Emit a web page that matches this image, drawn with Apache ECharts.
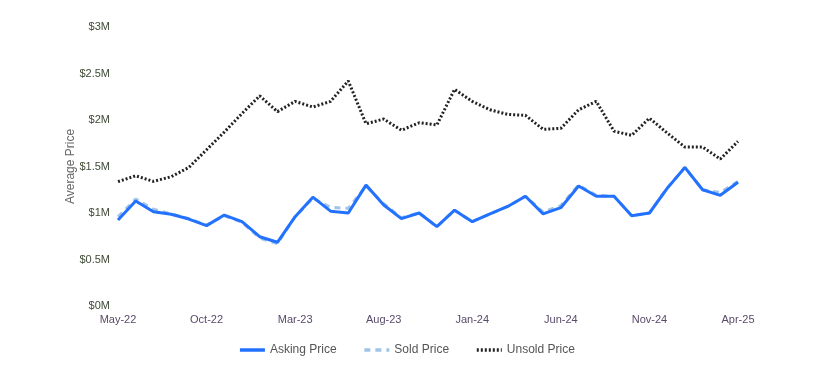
<!DOCTYPE html>
<html><head><meta charset="utf-8">
<script src="https://cdn.jsdelivr.net/npm/echarts@6/dist/echarts.min.js"></script>
<style>html,body{margin:0;padding:0;background:#fff}#c{width:813px;height:374px}</style>
</head><body><div id="c"></div>
<script>
const months = ['May-22','Jun-22','Jul-22','Aug-22','Sep-22','Oct-22','Nov-22','Dec-22','Jan-23','Feb-23','Mar-23','Apr-23','May-23','Jun-23','Jul-23','Aug-23','Sep-23','Oct-23','Nov-23','Dec-23','Jan-24','Feb-24','Mar-24','Apr-24','May-24','Jun-24','Jul-24','Aug-24','Sep-24','Oct-24','Nov-24','Dec-24','Jan-25','Feb-25','Mar-25','Apr-25'];
// values in $ millions
const askingPrice = [0.925,1.13,1.014,0.986,0.935,0.864,0.978,0.907,0.745,0.685,0.96,1.17,1.02,1.00,1.30,1.086,0.94,1.00,0.853,1.03,0.907,0.99,1.07,1.18,0.99,1.057,1.29,1.18,1.18,0.97,1.00,1.265,1.49,1.25,1.19,1.33];
const soldPrice   = [0.96,1.15,1.04,0.99,0.94,0.87,0.97,0.90,0.73,0.67,0.96,1.16,1.06,1.05,1.29,1.10,0.95,1.00,0.853,1.03,0.907,0.99,1.07,1.18,1.01,1.08,1.30,1.19,1.18,0.97,1.00,1.27,1.49,1.25,1.22,1.34];
const unsoldPrice = [1.337,1.40,1.34,1.39,1.49,1.68,1.87,2.07,2.26,2.09,2.20,2.14,2.20,2.42,1.96,2.01,1.89,1.97,1.946,2.33,2.20,2.11,2.06,2.05,1.90,1.91,2.11,2.20,1.88,1.835,2.02,1.86,1.71,1.71,1.58,1.77];
const yTicks = [0,0.5,1,1.5,2,2.5,3];

const chart = echarts.init(document.getElementById('c'));
chart.setOption({
  animation:false,
  textStyle:{fontFamily:'Liberation Sans, Arial, sans-serif'},
  grid:{left:118,right:75,top:27,bottom:68,containLabel:false},
  legend:{
    bottom:13,left:'center',itemWidth:25,itemHeight:10,itemGap:26,
    lineStyle:{width:3.5},itemStyle:{opacity:0},
    textStyle:{color:'#555',fontSize:12,fontFamily:'Liberation Sans, Arial, sans-serif'},
    data:['Asking Price','Sold Price','Unsold Price']
  },
  xAxis:{
    type:'category',data:months,boundaryGap:false,
    axisLine:{show:false},axisTick:{show:false},
    axisLabel:{interval:4,color:'#5a4a6a',fontSize:11,margin:8}
  },
  yAxis:{
    type:'value',min:yTicks[0],max:yTicks[yTicks.length-1],interval:0.5,
    name:'Average Price',nameLocation:'middle',nameGap:41,nameMoveOverlap:false,
    nameTextStyle:{color:'#666',fontSize:12},
    axisLine:{show:false},axisTick:{show:false},splitLine:{show:false},
    axisLabel:{color:'#3d4a35',fontSize:11,margin:8,formatter:v=>'$'+v+'M'}
  },
  series:[
    {name:'Asking Price',type:'line',data:askingPrice,symbol:'none',z:3,
     lineStyle:{color:'#2271ff',width:3},itemStyle:{color:'#2271ff'}},
    {name:'Sold Price',type:'line',data:soldPrice,symbol:'none',z:2,
     lineStyle:{color:'#a0c4e8',width:3,type:[6,5]},itemStyle:{color:'#a0c4e8'}},
    {name:'Unsold Price',type:'line',data:unsoldPrice,symbol:'none',z:2,
     lineStyle:{color:'#222',width:3,type:[2,2]},itemStyle:{color:'#222'}}
  ]
});
</script></body></html>
